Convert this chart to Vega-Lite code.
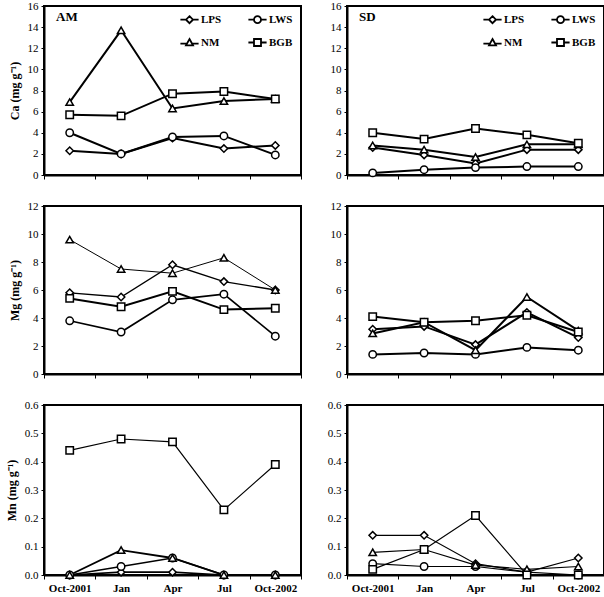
{
  "$schema": "https://vega.github.io/schema/vega-lite/v6.json",
  "padding": {"left": 4, "top": -1, "right": 2, "bottom": 0},
  "background": "white",
  "data": {"values": [
    {"site":"AM","el":"Ca","series":"LPS","month":"Oct-2001","value":2.3},{"site":"AM","el":"Ca","series":"LPS","month":"Jan","value":2.0},{"site":"AM","el":"Ca","series":"LPS","month":"Apr","value":3.5},{"site":"AM","el":"Ca","series":"LPS","month":"Jul","value":2.5},{"site":"AM","el":"Ca","series":"LPS","month":"Oct-2002","value":2.8},
    {"site":"AM","el":"Ca","series":"LWS","month":"Oct-2001","value":4.0},{"site":"AM","el":"Ca","series":"LWS","month":"Jan","value":2.0},{"site":"AM","el":"Ca","series":"LWS","month":"Apr","value":3.6},{"site":"AM","el":"Ca","series":"LWS","month":"Jul","value":3.7},{"site":"AM","el":"Ca","series":"LWS","month":"Oct-2002","value":1.9},
    {"site":"AM","el":"Ca","series":"NM","month":"Oct-2001","value":6.9},{"site":"AM","el":"Ca","series":"NM","month":"Jan","value":13.7},{"site":"AM","el":"Ca","series":"NM","month":"Apr","value":6.3},{"site":"AM","el":"Ca","series":"NM","month":"Jul","value":7.0},{"site":"AM","el":"Ca","series":"NM","month":"Oct-2002","value":7.2},
    {"site":"AM","el":"Ca","series":"BGB","month":"Oct-2001","value":5.7},{"site":"AM","el":"Ca","series":"BGB","month":"Jan","value":5.6},{"site":"AM","el":"Ca","series":"BGB","month":"Apr","value":7.7},{"site":"AM","el":"Ca","series":"BGB","month":"Jul","value":7.9},{"site":"AM","el":"Ca","series":"BGB","month":"Oct-2002","value":7.2},
    {"site":"SD","el":"Ca","series":"LPS","month":"Oct-2001","value":2.6},{"site":"SD","el":"Ca","series":"LPS","month":"Jan","value":1.9},{"site":"SD","el":"Ca","series":"LPS","month":"Apr","value":1.1},{"site":"SD","el":"Ca","series":"LPS","month":"Jul","value":2.4},{"site":"SD","el":"Ca","series":"LPS","month":"Oct-2002","value":2.4},
    {"site":"SD","el":"Ca","series":"LWS","month":"Oct-2001","value":0.2},{"site":"SD","el":"Ca","series":"LWS","month":"Jan","value":0.5},{"site":"SD","el":"Ca","series":"LWS","month":"Apr","value":0.7},{"site":"SD","el":"Ca","series":"LWS","month":"Jul","value":0.8},{"site":"SD","el":"Ca","series":"LWS","month":"Oct-2002","value":0.8},
    {"site":"SD","el":"Ca","series":"NM","month":"Oct-2001","value":2.8},{"site":"SD","el":"Ca","series":"NM","month":"Jan","value":2.4},{"site":"SD","el":"Ca","series":"NM","month":"Apr","value":1.7},{"site":"SD","el":"Ca","series":"NM","month":"Jul","value":2.9},{"site":"SD","el":"Ca","series":"NM","month":"Oct-2002","value":2.9},
    {"site":"SD","el":"Ca","series":"BGB","month":"Oct-2001","value":4.0},{"site":"SD","el":"Ca","series":"BGB","month":"Jan","value":3.4},{"site":"SD","el":"Ca","series":"BGB","month":"Apr","value":4.4},{"site":"SD","el":"Ca","series":"BGB","month":"Jul","value":3.8},{"site":"SD","el":"Ca","series":"BGB","month":"Oct-2002","value":3.0},
    {"site":"AM","el":"Mg","series":"LPS","month":"Oct-2001","value":5.8},{"site":"AM","el":"Mg","series":"LPS","month":"Jan","value":5.5},{"site":"AM","el":"Mg","series":"LPS","month":"Apr","value":7.8},{"site":"AM","el":"Mg","series":"LPS","month":"Jul","value":6.6},{"site":"AM","el":"Mg","series":"LPS","month":"Oct-2002","value":6.0},
    {"site":"AM","el":"Mg","series":"LWS","month":"Oct-2001","value":3.8},{"site":"AM","el":"Mg","series":"LWS","month":"Jan","value":3.0},{"site":"AM","el":"Mg","series":"LWS","month":"Apr","value":5.3},{"site":"AM","el":"Mg","series":"LWS","month":"Jul","value":5.7},{"site":"AM","el":"Mg","series":"LWS","month":"Oct-2002","value":2.7},
    {"site":"AM","el":"Mg","series":"NM","month":"Oct-2001","value":9.6},{"site":"AM","el":"Mg","series":"NM","month":"Jan","value":7.5},{"site":"AM","el":"Mg","series":"NM","month":"Apr","value":7.2},{"site":"AM","el":"Mg","series":"NM","month":"Jul","value":8.3},{"site":"AM","el":"Mg","series":"NM","month":"Oct-2002","value":6.0},
    {"site":"AM","el":"Mg","series":"BGB","month":"Oct-2001","value":5.4},{"site":"AM","el":"Mg","series":"BGB","month":"Jan","value":4.8},{"site":"AM","el":"Mg","series":"BGB","month":"Apr","value":5.9},{"site":"AM","el":"Mg","series":"BGB","month":"Jul","value":4.6},{"site":"AM","el":"Mg","series":"BGB","month":"Oct-2002","value":4.7},
    {"site":"SD","el":"Mg","series":"LPS","month":"Oct-2001","value":3.2},{"site":"SD","el":"Mg","series":"LPS","month":"Jan","value":3.4},{"site":"SD","el":"Mg","series":"LPS","month":"Apr","value":2.1},{"site":"SD","el":"Mg","series":"LPS","month":"Jul","value":4.4},{"site":"SD","el":"Mg","series":"LPS","month":"Oct-2002","value":2.6},
    {"site":"SD","el":"Mg","series":"LWS","month":"Oct-2001","value":1.4},{"site":"SD","el":"Mg","series":"LWS","month":"Jan","value":1.5},{"site":"SD","el":"Mg","series":"LWS","month":"Apr","value":1.4},{"site":"SD","el":"Mg","series":"LWS","month":"Jul","value":1.9},{"site":"SD","el":"Mg","series":"LWS","month":"Oct-2002","value":1.7},
    {"site":"SD","el":"Mg","series":"NM","month":"Oct-2001","value":2.9},{"site":"SD","el":"Mg","series":"NM","month":"Jan","value":3.7},{"site":"SD","el":"Mg","series":"NM","month":"Apr","value":1.7},{"site":"SD","el":"Mg","series":"NM","month":"Jul","value":5.5},{"site":"SD","el":"Mg","series":"NM","month":"Oct-2002","value":3.1},
    {"site":"SD","el":"Mg","series":"BGB","month":"Oct-2001","value":4.1},{"site":"SD","el":"Mg","series":"BGB","month":"Jan","value":3.7},{"site":"SD","el":"Mg","series":"BGB","month":"Apr","value":3.8},{"site":"SD","el":"Mg","series":"BGB","month":"Jul","value":4.2},{"site":"SD","el":"Mg","series":"BGB","month":"Oct-2002","value":3.0},
    {"site":"AM","el":"Mn","series":"LPS","month":"Oct-2001","value":0.0},{"site":"AM","el":"Mn","series":"LPS","month":"Jan","value":0.01},{"site":"AM","el":"Mn","series":"LPS","month":"Apr","value":0.01},{"site":"AM","el":"Mn","series":"LPS","month":"Jul","value":0.0},{"site":"AM","el":"Mn","series":"LPS","month":"Oct-2002","value":0.0},
    {"site":"AM","el":"Mn","series":"LWS","month":"Oct-2001","value":0.0},{"site":"AM","el":"Mn","series":"LWS","month":"Jan","value":0.03},{"site":"AM","el":"Mn","series":"LWS","month":"Apr","value":0.06},{"site":"AM","el":"Mn","series":"LWS","month":"Jul","value":0.0},{"site":"AM","el":"Mn","series":"LWS","month":"Oct-2002","value":0.0},
    {"site":"AM","el":"Mn","series":"NM","month":"Oct-2001","value":0.0},{"site":"AM","el":"Mn","series":"NM","month":"Jan","value":0.088},{"site":"AM","el":"Mn","series":"NM","month":"Apr","value":0.06},{"site":"AM","el":"Mn","series":"NM","month":"Jul","value":0.0},{"site":"AM","el":"Mn","series":"NM","month":"Oct-2002","value":0.0},
    {"site":"AM","el":"Mn","series":"BGB","month":"Oct-2001","value":0.44},{"site":"AM","el":"Mn","series":"BGB","month":"Jan","value":0.48},{"site":"AM","el":"Mn","series":"BGB","month":"Apr","value":0.47},{"site":"AM","el":"Mn","series":"BGB","month":"Jul","value":0.23},{"site":"AM","el":"Mn","series":"BGB","month":"Oct-2002","value":0.39},
    {"site":"SD","el":"Mn","series":"LPS","month":"Oct-2001","value":0.14},{"site":"SD","el":"Mn","series":"LPS","month":"Jan","value":0.14},{"site":"SD","el":"Mn","series":"LPS","month":"Apr","value":0.04},{"site":"SD","el":"Mn","series":"LPS","month":"Jul","value":0.01},{"site":"SD","el":"Mn","series":"LPS","month":"Oct-2002","value":0.06},
    {"site":"SD","el":"Mn","series":"LWS","month":"Oct-2001","value":0.04},{"site":"SD","el":"Mn","series":"LWS","month":"Jan","value":0.03},{"site":"SD","el":"Mn","series":"LWS","month":"Apr","value":0.03},{"site":"SD","el":"Mn","series":"LWS","month":"Jul","value":0.01},{"site":"SD","el":"Mn","series":"LWS","month":"Oct-2002","value":0.0},
    {"site":"SD","el":"Mn","series":"NM","month":"Oct-2001","value":0.08},{"site":"SD","el":"Mn","series":"NM","month":"Jan","value":0.09},{"site":"SD","el":"Mn","series":"NM","month":"Apr","value":0.035},{"site":"SD","el":"Mn","series":"NM","month":"Jul","value":0.02},{"site":"SD","el":"Mn","series":"NM","month":"Oct-2002","value":0.03},
    {"site":"SD","el":"Mn","series":"BGB","month":"Oct-2001","value":0.02},{"site":"SD","el":"Mn","series":"BGB","month":"Jan","value":0.09},{"site":"SD","el":"Mn","series":"BGB","month":"Apr","value":0.21},{"site":"SD","el":"Mn","series":"BGB","month":"Jul","value":0.0},{"site":"SD","el":"Mn","series":"BGB","month":"Oct-2002","value":0.0}
  ]},
  "columns": 2,
  "align": "each",
  "spacing": {"row": 18, "column": 23},
  "resolve": {"scale": {"y": "independent", "shape": "independent", "strokeWidth": "independent"}, "legend": {"shape": "independent", "strokeWidth": "independent"}},
  "concat": [
    {
      "width": 257, "height": 169,
      "title": {"text": "AM", "anchor": "start", "frame": "group", "orient": "top", "offset": -24, "dx": 12, "font": "Liberation Serif", "fontSize": 13, "fontWeight": "bold", "color": "black"},
      "transform": [{"filter": "datum.site === 'AM' && datum.el === 'Ca'"}],
      "encoding": {
        "x": {"field": "month", "type": "ordinal", "sort": ["Oct-2001","Jan","Apr","Jul","Oct-2002"], "scale": {"type": "band", "domain": ["Oct-2001","Jan","Apr","Jul","Oct-2002"], "paddingInner": 0, "paddingOuter": 0}, "axis": {"labels": false, "title": null, "tickBand": "extent", "tickSize": 4}},
        "y": {"field": "value", "type": "quantitative", "scale": {"domain": [0, 16], "nice": false}, "axis": {"values": [0,2,4,6,8,10,12,14,16], "title": "Ca (mg g⁻¹)"}}
      },
      "resolve": {"scale": {"shape": "independent"}, "legend": {"shape": "independent"}},
      "layer": [
        {"mark": {"type": "line", "stroke": "black"},
         "encoding": {"detail": {"field": "series"}, "strokeWidth": {"field": "series", "type": "nominal", "scale": {"domain": ["BGB","LWS","LPS","NM"], "range": [2, 2, 1, 1]}, "legend": null}}},
        {"mark": {"type": "point", "filled": true, "fill": "white", "stroke": "black", "strokeWidth": 1.5, "size": 55, "opacity": 1},
         "encoding": {"shape": {"field": "series", "type": "nominal", "scale": {"domain": ["LPS","LWS","NM","BGB"], "range": ["diamond","circle","triangle-up","square"]}, "legend": null}}},
        {"transform": [{"filter": "false"}],
         "mark": {"type": "point", "filled": false, "stroke": "black", "strokeWidth": 1.8, "opacity": 1},
         "encoding": {"shape": {"field": "series", "type": "nominal", "scale": {"domain": ["LPS","NM","LWS","BGB"], "range": ["M-2.6,0H-1M1,0H2.6M0,-1L1,0L0,1L-1,0Z", "M-2.6,0.3H-0.9M0.9,0.3H2.6M0,-1L1,0.8L-1,0.8Z", "M-2.6,0H-1M1,0H2.6M1,0A1,1,0,1,1,-1,0A1,1,0,1,1,1,0Z", "M-2.6,0H-1M1,0H2.6M-1,-1H1V1H-1Z"]},
             "legend": {"title": null, "orient": "top-right", "columns": 2, "offset": 4, "padding": 4, "symbolSize": 49, "labelOffset": 6, "columnPadding": 22, "rowPadding": 8, "symbolOpacity": 1, "symbolStrokeColor": "black", "symbolStrokeWidth": 1.8, "labelFont": "Liberation Serif", "labelFontWeight": "bold", "labelFontSize": 11, "labelColor": "black"}}}}
      ]
    },
    {
      "width": 257, "height": 169,
      "title": {"text": "SD", "anchor": "start", "frame": "group", "orient": "top", "offset": -24, "dx": 12, "font": "Liberation Serif", "fontSize": 13, "fontWeight": "bold", "color": "black"},
      "transform": [{"filter": "datum.site === 'SD' && datum.el === 'Ca'"}],
      "encoding": {
        "x": {"field": "month", "type": "ordinal", "sort": ["Oct-2001","Jan","Apr","Jul","Oct-2002"], "scale": {"type": "band", "domain": ["Oct-2001","Jan","Apr","Jul","Oct-2002"], "paddingInner": 0, "paddingOuter": 0}, "axis": {"labels": false, "title": null, "tickBand": "extent", "tickSize": 4}},
        "y": {"field": "value", "type": "quantitative", "scale": {"domain": [0, 16], "nice": false}, "axis": {"values": [0,2,4,6,8,10,12,14,16], "title": null}}
      },
      "resolve": {"scale": {"shape": "independent"}, "legend": {"shape": "independent"}},
      "layer": [
        {"mark": {"type": "line", "stroke": "black"},
         "encoding": {"detail": {"field": "series"}, "strokeWidth": {"field": "series", "type": "nominal", "scale": {"domain": ["BGB","LWS","LPS","NM"], "range": [2, 2, 1, 1.5]}, "legend": null}}},
        {"mark": {"type": "point", "filled": true, "fill": "white", "stroke": "black", "strokeWidth": 1.5, "size": 55, "opacity": 1},
         "encoding": {"shape": {"field": "series", "type": "nominal", "scale": {"domain": ["LPS","LWS","NM","BGB"], "range": ["diamond","circle","triangle-up","square"]}, "legend": null}}},
        {"transform": [{"filter": "false"}],
         "mark": {"type": "point", "filled": false, "stroke": "black", "strokeWidth": 1.8, "opacity": 1},
         "encoding": {"shape": {"field": "series", "type": "nominal", "scale": {"domain": ["LPS","NM","LWS","BGB"], "range": ["M-2.6,0H-1M1,0H2.6M0,-1L1,0L0,1L-1,0Z", "M-2.6,0.3H-0.9M0.9,0.3H2.6M0,-1L1,0.8L-1,0.8Z", "M-2.6,0H-1M1,0H2.6M1,0A1,1,0,1,1,-1,0A1,1,0,1,1,1,0Z", "M-2.6,0H-1M1,0H2.6M-1,-1H1V1H-1Z"]},
             "legend": {"title": null, "orient": "top-right", "columns": 2, "offset": 4, "padding": 4, "symbolSize": 49, "labelOffset": 6, "columnPadding": 22, "rowPadding": 8, "symbolOpacity": 1, "symbolStrokeColor": "black", "symbolStrokeWidth": 1.8, "labelFont": "Liberation Serif", "labelFontWeight": "bold", "labelFontSize": 11, "labelColor": "black"}}}}
      ]
    },
    {
      "width": 257, "height": 168,
      "transform": [{"filter": "datum.site === 'AM' && datum.el === 'Mg'"}],
      "encoding": {
        "x": {"field": "month", "type": "ordinal", "sort": ["Oct-2001","Jan","Apr","Jul","Oct-2002"], "scale": {"type": "band", "domain": ["Oct-2001","Jan","Apr","Jul","Oct-2002"], "paddingInner": 0, "paddingOuter": 0}, "axis": {"labels": false, "title": null, "tickBand": "extent", "tickSize": 4}},
        "y": {"field": "value", "type": "quantitative", "scale": {"domain": [0, 12], "nice": false}, "axis": {"values": [0,2,4,6,8,10,12], "title": "Mg (mg g⁻¹)"}}
      },
      "layer": [
        {"mark": {"type": "line", "stroke": "black"},
         "encoding": {"detail": {"field": "series"}, "strokeWidth": {"field": "series", "type": "nominal", "scale": {"domain": ["BGB","LWS","LPS","NM"], "range": [2, 1, 1.8, 1]}, "legend": null}}},
        {"mark": {"type": "point", "filled": true, "fill": "white", "stroke": "black", "strokeWidth": 1.5, "size": 55, "opacity": 1},
         "encoding": {"shape": {"field": "series", "type": "nominal", "scale": {"domain": ["LPS","LWS","NM","BGB"], "range": ["diamond","circle","triangle-up","square"]}, "legend": null}}}
      ]
    },
    {
      "width": 257, "height": 168,
      "transform": [{"filter": "datum.site === 'SD' && datum.el === 'Mg'"}],
      "encoding": {
        "x": {"field": "month", "type": "ordinal", "sort": ["Oct-2001","Jan","Apr","Jul","Oct-2002"], "scale": {"type": "band", "domain": ["Oct-2001","Jan","Apr","Jul","Oct-2002"], "paddingInner": 0, "paddingOuter": 0}, "axis": {"labels": false, "title": null, "tickBand": "extent", "tickSize": 4}},
        "y": {"field": "value", "type": "quantitative", "scale": {"domain": [0, 12], "nice": false}, "axis": {"values": [0,2,4,6,8,10,12], "title": null}}
      },
      "layer": [
        {"mark": {"type": "line", "stroke": "black"},
         "encoding": {"detail": {"field": "series"}, "strokeWidth": {"field": "series", "type": "nominal", "scale": {"domain": ["BGB","LWS","LPS","NM"], "range": [2, 2, 1, 1]}, "legend": null}}},
        {"mark": {"type": "point", "filled": true, "fill": "white", "stroke": "black", "strokeWidth": 1.5, "size": 55, "opacity": 1},
         "encoding": {"shape": {"field": "series", "type": "nominal", "scale": {"domain": ["LPS","LWS","NM","BGB"], "range": ["diamond","circle","triangle-up","square"]}, "legend": null}}}
      ]
    },
    {
      "width": 257, "height": 170,
      "transform": [{"filter": "datum.site === 'AM' && datum.el === 'Mn'"}],
      "encoding": {
        "x": {"field": "month", "type": "ordinal", "sort": ["Oct-2001","Jan","Apr","Jul","Oct-2002"], "scale": {"type": "band", "domain": ["Oct-2001","Jan","Apr","Jul","Oct-2002"], "paddingInner": 0, "paddingOuter": 0}, "axis": {"title": null, "tickBand": "extent", "tickSize": 4, "labelAngle": 0, "labelFontWeight": "bold", "labelFontSize": 11, "labelPadding": 3}},
        "y": {"field": "value", "type": "quantitative", "scale": {"domain": [0, 0.6], "nice": false}, "axis": {"values": [0,0.1,0.2,0.3,0.4,0.5,0.6], "format": ".1f", "title": "Mn (mg g⁻¹)"}}
      },
      "layer": [
        {"mark": {"type": "line", "stroke": "black"},
         "encoding": {"detail": {"field": "series"}, "strokeWidth": {"field": "series", "type": "nominal", "scale": {"domain": ["BGB","LWS","LPS","NM"], "range": [1.2, 1.8, 1.8, 1.5]}, "legend": null}}},
        {"mark": {"type": "point", "filled": true, "fill": "white", "stroke": "black", "strokeWidth": 1.5, "size": 55, "opacity": 1},
         "encoding": {"shape": {"field": "series", "type": "nominal", "scale": {"domain": ["LPS","LWS","NM","BGB"], "range": ["diamond","circle","triangle-up","square"]}, "legend": null}}}
      ]
    },
    {
      "width": 257, "height": 170,
      "transform": [{"filter": "datum.site === 'SD' && datum.el === 'Mn'"}],
      "encoding": {
        "x": {"field": "month", "type": "ordinal", "sort": ["Oct-2001","Jan","Apr","Jul","Oct-2002"], "scale": {"type": "band", "domain": ["Oct-2001","Jan","Apr","Jul","Oct-2002"], "paddingInner": 0, "paddingOuter": 0}, "axis": {"title": null, "tickBand": "extent", "tickSize": 4, "labelAngle": 0, "labelFontWeight": "bold", "labelFontSize": 11, "labelPadding": 3}},
        "y": {"field": "value", "type": "quantitative", "scale": {"domain": [0, 0.6], "nice": false}, "axis": {"values": [0,0.1,0.2,0.3,0.4,0.5,0.6], "format": ".1f", "title": null}}
      },
      "layer": [
        {"mark": {"type": "line", "stroke": "black"},
         "encoding": {"detail": {"field": "series"}, "strokeWidth": {"field": "series", "type": "nominal", "scale": {"domain": ["BGB","LWS","LPS","NM"], "range": [1.2, 1.2, 1.8, 1.8]}, "legend": null}}},
        {"mark": {"type": "point", "filled": true, "fill": "white", "stroke": "black", "strokeWidth": 1.5, "size": 55, "opacity": 1},
         "encoding": {"shape": {"field": "series", "type": "nominal", "scale": {"domain": ["LPS","LWS","NM","BGB"], "range": ["diamond","circle","triangle-up","square"]}, "legend": null}}}
      ]
    }
  ],
  "config": {
    "view": {"stroke": "black", "strokeWidth": 2},
    "axis": {"grid": false, "domainColor": "black", "domainWidth": 2, "tickColor": "black", "tickWidth": 1, "labelColor": "black", "labelFont": "Liberation Serif", "labelFontSize": 11, "titleFont": "Liberation Serif", "titleFontWeight": "bold", "titleFontSize": 12, "titleColor": "black"},
    "axisY": {"tickSize": 3, "labelPadding": 3, "titlePadding": 6}
  }
}
